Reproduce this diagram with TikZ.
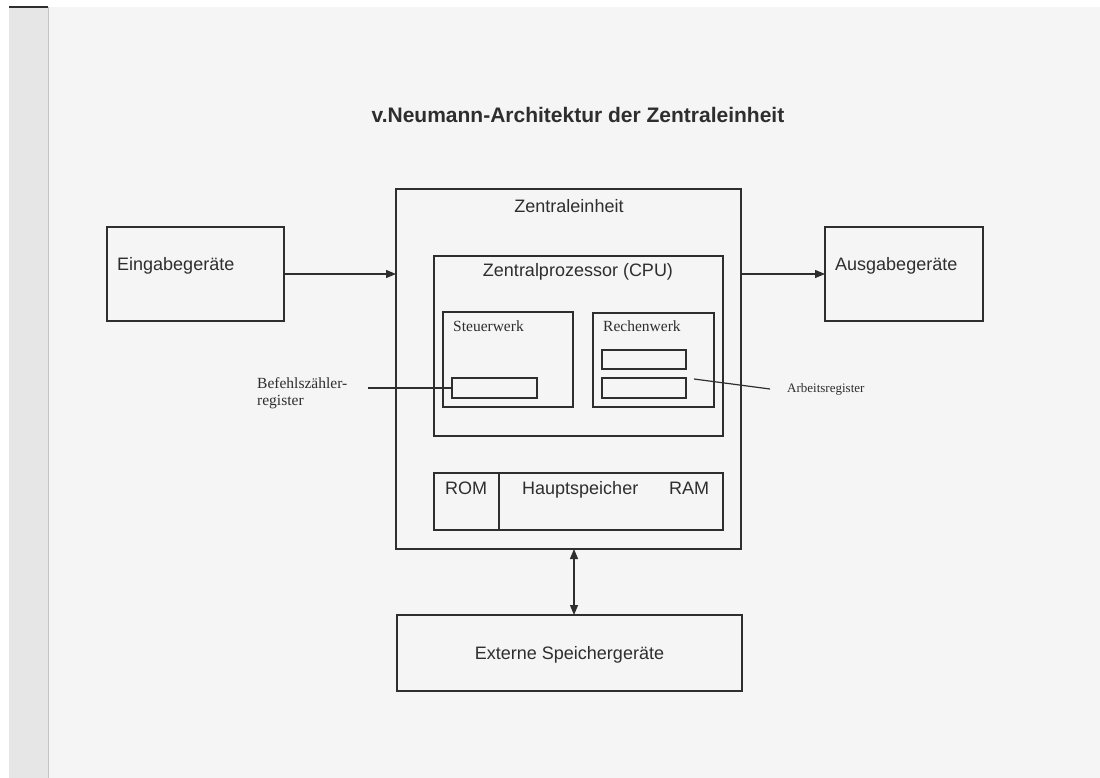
\documentclass[tikz,border=0pt]{standalone}
\usepackage{fontspec}
\setmainfont{Liberation Serif}
\setsansfont{Liberation Sans}
\usetikzlibrary{arrows.meta,calc}
\definecolor{ink}{HTML}{2E2E2E}
\definecolor{paper}{HTML}{F5F5F5}
\definecolor{strip}{HTML}{E6E6E6}
\tikzset{
  box/.style={draw=ink, line width=1.2pt, inner sep=0pt, outer sep=0pt},
  conn/.style={draw=ink, line width=1.2pt},
  arr/.style={conn, -{Triangle[length=10pt,width=8pt]}},
  arrboth/.style={conn, {Triangle[length=10pt,width=8pt]}-{Triangle[length=10pt,width=8pt]}},
  sanslabel/.style={text=ink, inner sep=0pt, font=\sffamily\fontsize{18}{21}\selectfont},
  serflabel/.style={text=ink, inner sep=0pt, font=\rmfamily\fontsize{15.5}{17}\selectfont},
  smallserf/.style={text=ink, inner sep=0pt, font=\rmfamily\fontsize{13}{15}\selectfont},
}
\begin{document}
\begin{tikzpicture}[x=1pt,y=-1pt]
\useasboundingbox (0,0) rectangle (1100,778);
% scanned sheet
\fill[white] (0,0) rectangle (1100,778);
\fill[strip] (9,7) rectangle (48,778);
\fill[paper] (48,7) rectangle (1100,778);
\draw[ink, line width=1.5pt] (9,7) -- (48,7);
\draw[strip!85!black, line width=0.5pt] (48,7) -- (48,778);

% title
\node[sanslabel, font=\sffamily\bfseries\fontsize{21}{24}\selectfont] (title) at (578,115) {v.Neumann-Architektur der Zentraleinheit};

% boxes
\node[box, minimum width=345pt, minimum height=360pt] (ze)  at (568.5,369) {};
\node[box, minimum width=177pt, minimum height=94pt]  (ein) at (195.5,274) {};
\node[box, minimum width=158pt, minimum height=94pt]  (aus) at (904,274) {};
\node[box, minimum width=289pt, minimum height=180pt] (cpu) at (578.5,346) {};
\node[box, minimum width=130pt, minimum height=95pt]  (stw) at (508,359.5) {};
\node[box, minimum width=121pt, minimum height=94pt]  (rw)  at (653.5,360) {};
\node[box, minimum width=85pt,  minimum height=20pt]  (bz)  at (494.5,388) {};
\node[box, minimum width=84pt,  minimum height=19pt]  (ra)  at (644,359.5) {};
\node[box, minimum width=84pt,  minimum height=20pt]  (rb)  at (644,388) {};
\node[box, minimum width=289pt, minimum height=57pt]  (mem) at (578.5,501.5) {};
\node[box, minimum width=345pt, minimum height=76pt]  (ext) at (569.5,653) {};
\draw[conn] ($(mem.north west)+(65,0)$) -- ($(mem.south west)+(65,0)$);

% labels
\node[sanslabel] (zel)  at (569,206) {Zentraleinheit};
\node[sanslabel] (cpul) at (578,272) {Zentralprozessor (CPU)};
\node[sanslabel, anchor=mid west] (eint) at (117,268) {Eingabegeräte};
\node[sanslabel, anchor=mid west] (aust) at (835,268) {Ausgabegeräte};
\node[sanslabel] (extt) at (569.5,655) {Externe Speichergeräte};
\node[sanslabel, anchor=mid west] (rom)   at (445,492) {ROM};
\node[sanslabel, anchor=mid west] (haupt) at (522,492) {Hauptspeicher};
\node[sanslabel, anchor=mid west] (ram)   at (669,492) {RAM};
\node[serflabel, anchor=mid west] (stwt) at (453,329) {Steuerwerk};
\node[serflabel, anchor=mid west] (rwt)  at (603,329) {Rechenwerk};
\node[serflabel, anchor=west, align=left] (bzt) at (257,393) {Befehlszähler-\\register};
\node[smallserf, anchor=mid west] (art) at (787,390) {Arbeitsregister};

% connectors
\coordinate (bzend) at (368,388);
\coordinate (arA) at (694,379);
\coordinate (arB) at (770,389);
\draw[arr] (ein.east) -- (ein.east -| ze.west);
\draw[arr] (aus.west -| ze.east) -- (aus.west);
\draw[arrboth] ($(ze.south)+(5.5,0)$) -- ($(ext.north)+(4.5,0)$);
\draw[conn] (bzend) -- (bz.west);
\draw[conn] (arA) -- (arB);
\end{tikzpicture}
\end{document}
